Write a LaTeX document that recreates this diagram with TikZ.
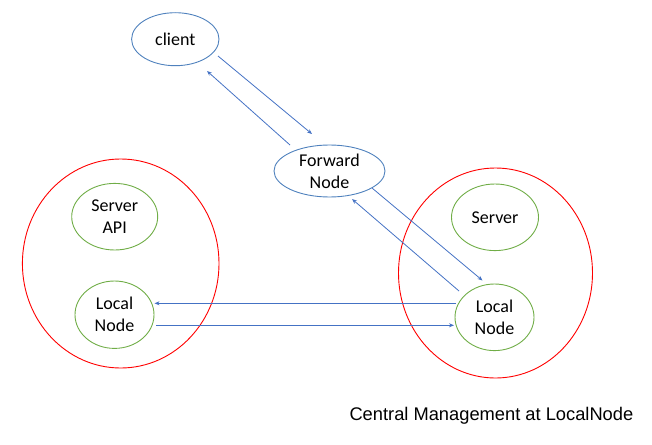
\documentclass[tikz,border=0pt]{standalone}
\usepackage{fontspec}
\setmainfont{Carlito}
\newfontfamily\capfont{Liberation Sans}
\usetikzlibrary{shapes.geometric,arrows.meta}
\definecolor{eblue}{HTML}{4F81BD}
\definecolor{ablue}{HTML}{4472C4}
\definecolor{egreen}{HTML}{70AD47}
\definecolor{ered}{HTML}{FF0000}
\tikzset{
  oval/.style={ellipse, draw, line width=0.9pt, inner sep=0pt},
  blueoval/.style={oval, draw=eblue},
  greenoval/.style={oval, draw=egreen},
  redoval/.style={oval, draw=ered},
  lbl/.style={font=\fontsize{18}{22}\selectfont, align=center, inner sep=0pt, text=black},
  arr/.style={draw=ablue, line width=0.8pt, -{Stealth[length=5pt,width=4pt]}},
}
\begin{document}
\begin{tikzpicture}[x=1pt,y=-1pt]
\useasboundingbox (0,0) rectangle (652,444);
% outer groups
\node[redoval, minimum width=196.6pt, minimum height=209pt] (groupL) at (120.7,263.5) {};
\node[redoval, minimum width=194pt, minimum height=210pt] (groupR) at (495.5,273) {};
% nodes
\node[blueoval, minimum width=87.4pt, minimum height=53pt] (client) at (175.3,39.2) {};
\node[lbl] (clientT) at (client) {client};
\node[blueoval, minimum width=111pt, minimum height=52pt] (fwd) at (329.5,171) {};
\node[lbl] (fwdT) at (fwd) {Forward\\Node};
\node[greenoval, minimum width=86pt, minimum height=66.6pt] (api) at (114.7,216.7) {};
\node[lbl] (apiT) at (api) {Server\\API};
\node[greenoval, minimum width=79pt, minimum height=67.4pt] (localL) at (114.5,314.7) {};
\node[lbl] (localLT) at (localL) {Local\\Node};
\node[greenoval, minimum width=87pt, minimum height=66.6pt] (server) at (495,217.3) {};
\node[lbl] (serverT) at (server) {Server};
\node[greenoval, minimum width=79pt, minimum height=66.6pt] (localR) at (494.5,317.3) {};
\node[lbl] (localRT) at (localR) {Local\\Node};
% arrow end points
\coordinate (c1) at (218,56);   \coordinate (f1) at (312,134);
\coordinate (f2) at (290,145);  \coordinate (c2) at (207,71);
\coordinate (f3) at (372,188);  \coordinate (r1) at (482.5,280.5);
\coordinate (r2) at (459,291);  \coordinate (f4) at (352,199);
\coordinate (r3) at (455.7,303.3); \coordinate (l1) at (154.5,303.3);
\coordinate (l2) at (156,325.3);   \coordinate (r4) at (454,325.3);
\draw[arr] (c1) -- (f1);
\draw[arr] (f2) -- (c2);
\draw[arr] (f3) -- (r1);
\draw[arr] (r2) -- (f4);
\draw[arr] (r3) -- (l1);
\draw[arr] (l2) -- (r4);
% caption
\node[anchor=base west, inner sep=0pt, font=\capfont\fontsize{18.3}{21}\selectfont] (caption) at (349.3,420) {Central Management at LocalNode};
\end{tikzpicture}
\end{document}
